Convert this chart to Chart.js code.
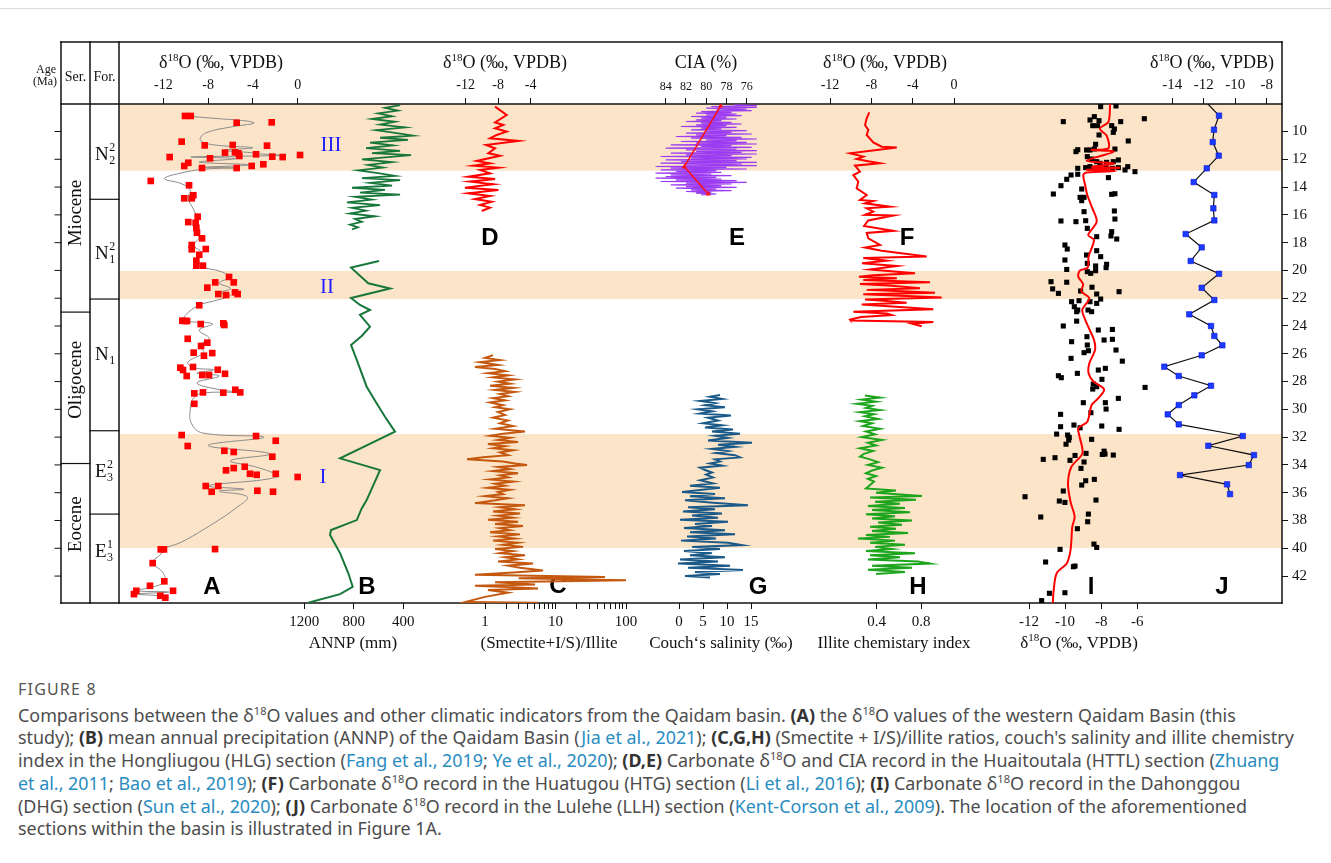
<!DOCTYPE html>
<html><head><meta charset="utf-8">
<script src="https://cdn.jsdelivr.net/npm/chart.js@4/dist/chart.umd.min.js"></script>
<style>
html,body{margin:0;padding:0;background:#fff}
body{width:1331px;height:863px;overflow:hidden;position:relative;font-family:'Noto Sans',sans-serif}
#topline{position:absolute;left:0;top:8px;width:1331px;height:1px;background:#dcdcdc}
#fig{position:absolute;left:0;top:0;width:1331px;height:660px}
#fig canvas{position:absolute;left:0;top:0}
#cap{position:absolute;left:18px;top:678px;color:#4d4d4d;font-size:17.9px;line-height:22.7px}
#cap .fig{font-size:16px;letter-spacing:1.2px;color:#555;margin-bottom:3px}
#cap .l{white-space:nowrap}
#cap b{color:#333}
#cap a{color:#2a8cbf;text-decoration:none}
#cap sup{font-size:11px;line-height:0;vertical-align:7px}
</style></head>
<body>
<div id="topline"></div>
<div id="fig"></div>
<div id="cap">
<div class="fig">FIGURE 8</div>
<div class="l">Comparisons between the δ<sup>18</sup>O values and other climatic indicators from the Qaidam basin. <b>(A)</b> the δ<sup>18</sup>O values of the western Qaidam Basin (this</div>
<div class="l">study); <b>(B)</b> mean annual precipitation (ANNP) of the Qaidam Basin (<a>Jia et al., 2021</a>); <b>(C,G,H)</b> (Smectite + I/S)/illite ratios, couch's salinity and illite chemistry</div>
<div class="l">index in the Hongliugou (HLG) section (<a>Fang et al., 2019</a>; <a>Ye et al., 2020</a>); <b>(D,E)</b> Carbonate δ<sup>18</sup>O and CIA record in the Huaitoutala (HTTL) section (<a>Zhuang</a></div>
<div class="l"><a>et al., 2011</a>; <a>Bao et al., 2019</a>); <b>(F)</b> Carbonate δ<sup>18</sup>O record in the Huatugou (HTG) section (<a>Li et al., 2016</a>); <b>(I)</b> Carbonate δ<sup>18</sup>O record in the Dahonggou</div>
<div class="l">(DHG) section (<a>Sun et al., 2020</a>); <b>(J)</b> Carbonate δ<sup>18</sup>O record in the Lulehe (LLH) section (<a>Kent-Corson et al., 2009</a>). The location of the aforementioned</div>
<div class="l">sections within the basin is illustrated in Figure 1A.</div>
</div>
<script>
// ---------------- DATA ----------------
const ageTicks = [10,12,14,16,18,20,22,24,26,28,30,32,34,36,38,40,42];
const bandStart = [8.02, 20.04, 31.78];
const bandEnd = [12.82, 22.06, 39.98];
const seriesNames = ['Miocene','Oligocene','Eocene'];
const seriesBounds = [23.0, 33.9];
const formationBounds = [14.88, 22.06, 31.54, 37.54];

// A: [d18O, age]
const aPoints = [[-10.06,8.88],[-9.55,8.88],[-5.45,9.37],[-2.32,9.34],[-10.36,10.73],[-8.30,11.0],[-5.80,10.97],[-2.74,11.02],[-6.49,11.52],[-5.6,11.5],[-5.3,11.57],[-3.72,11.64],[-11.43,11.84],[-7.83,11.93],[-5.21,11.76],[-2.27,11.81],[-1.34,11.84],[0.21,11.69],[-9.77,12.25],[-10.13,12.48],[-8.54,12.63],[-5.45,12.63],[-4.11,12.48],[-3.07,12.36],[-13.12,13.56],[-9.70,13.87],[-9.32,14.59],[-10.13,14.81],[-9.46,14.81],[-8.93,16.13],[-9.77,16.52],[-9.11,16.57],[-9.05,16.93],[-8.99,17.29],[-8.54,17.69],[-9.46,18.17],[-8.21,18.46],[-9.46,18.48],[-8.79,18.87],[-9.05,19.3],[-9.05,19.66],[-8.46,19.66],[-6.13,20.47],[-7.36,20.86],[-5.71,20.86],[-8.07,21.24],[-7.09,21.7],[-6.4,21.77],[-5.6,21.58],[-5.36,21.7],[-8.79,22.51],[-10.3,23.62],[-10.09,23.64],[-9.88,23.64],[-8.66,23.86],[-6.64,23.81],[-6.55,23.93],[-9.82,24.92],[-8.07,25.2],[-8.63,25.44],[-9.29,25.92],[-8.37,26.14],[-7.63,25.95],[-10.48,27.0],[-10.24,27.17],[-9.35,26.95],[-9.91,27.6],[-8.52,27.53],[-7.92,27.53],[-7.14,27.15],[-6.49,27.44],[-9.23,28.85],[-8.46,28.78],[-6.64,28.8],[-5.57,28.59],[-5.13,28.78],[-9.23,29.6],[-10.36,31.85],[-3.72,31.92],[-1.96,32.26],[-9.82,32.64],[-6.55,32.98],[-5.71,33.07],[-2.27,33.41],[-6.4,34.39],[-5.71,34.23],[-4.73,34.13],[-4.26,34.64],[-3.66,34.71],[-1.96,34.64],[0.0,34.87],[-8.21,35.52],[-7.09,35.52],[-7.68,35.93],[-3.6,35.86],[-2.2,35.93],[-12.23,40.08],[-11.94,40.08],[-7.38,40.06],[-12.95,41.07],[-11.91,42.38],[-13.19,42.7],[-11.13,43.06],[-14.41,43.06],[-14.62,43.3],[-12.27,43.42],[-11.82,43.56]];
const aSmooth = [[-10.0,8.88],[-7.5,9.05],[-4.5,9.25],[-3.9,9.4],[-5.8,9.65],[-8.2,10.1],[-8.7,10.6],[-7.6,10.95],[-4.0,11.17],[-6.6,11.35],[-4.5,11.5],[-3.2,11.62],[-1.4,11.72],[-9.5,11.83],[-5.5,11.95],[-8.8,12.2],[-4.3,12.4],[-8.5,12.58],[-5.6,12.62],[-8.2,12.7],[-10.5,13.0],[-11.9,13.4],[-10.4,13.75],[-9.6,14.2],[-9.8,14.8],[-9.3,15.6],[-9.0,16.3],[-9.2,17.0],[-8.8,17.6],[-9.3,18.2],[-8.6,18.7],[-9.0,19.3],[-8.7,19.7],[-6.8,20.1],[-6.1,20.5],[-7.0,20.9],[-6.0,21.3],[-7.0,21.6],[-6.0,21.8],[-7.5,22.2],[-8.8,22.5],[-10.0,23.2],[-10.1,23.6],[-7.6,23.85],[-8.8,24.3],[-7.9,24.9],[-8.8,25.4],[-8.4,25.9],[-9.8,26.6],[-9.3,27.0],[-7.5,27.15],[-9.0,27.4],[-7.0,27.6],[-9.0,28.1],[-6.9,28.6],[-5.3,28.75],[-8.6,28.85],[-9.4,29.3],[-9.6,30.0],[-9.5,31.0],[-8.5,31.7],[-3.0,32.0],[-8.0,32.6],[-2.5,33.2],[-6.0,33.7],[-3.5,34.2],[-1.8,34.85],[-8.0,35.5],[-4.8,35.75],[-7.0,35.9],[-4.5,36.3],[-5.5,37.1],[-8.3,38.6],[-10.5,39.6],[-12.0,40.05],[-12.2,40.4],[-12.9,41.0],[-12.0,41.8],[-11.9,42.4],[-13.0,42.8],[-14.5,43.05],[-11.5,43.15],[-14.4,43.3],[-12.0,43.45],[-11.8,43.6]];

// B: [ANNP mm, age]
const bUpper = [[426,8.1],[548,8.3],[443,8.5],[604,8.7],[491,8.9],[653,9.1],[467,9.3],[588,9.5],[386,9.7],[620,9.9],[467,10.1],[321,10.3],[588,10.45],[362,10.6],[669,10.8],[483,11.0],[701,11.2],[426,11.4],[653,11.55],[337,11.7],[523,11.85],[734,12.0],[491,12.2],[685,12.4],[564,12.6],[766,12.8],[604,13.0],[467,13.2],[734,13.35],[426,13.5],[669,13.7],[491,13.9],[814,14.05],[548,14.2],[750,14.4],[426,14.55],[790,14.7],[653,14.9],[855,15.1],[588,15.3],[814,15.5],[701,15.7],[831,15.9],[628,16.1],[790,16.3],[734,16.5],[831,16.7],[766,16.9],[814,17.05]];
const bLower = [[596,19.32],[822,19.8],[683,20.93],[507,21.3],[822,21.99],[750,22.49],[669,22.85],[750,23.2],[669,24.05],[734,24.7],[822,25.37],[774,26.5],[696,28.37],[623,29.45],[548,30.53],[467,31.6],[911,33.53],[588,34.37],[696,36.53],[736,37.13],[776,37.97],[984,38.69],[992,39.05],[911,40.35],[844,41.8],[809,42.77],[911,43.3],[1168,43.92]];

// C: [(Smectite+I/S)/Illite, age]
const cRatio = [[1.30,26.1],[1.00,26.3],[1.63,26.45],[0.85,26.6],[1.53,26.8],[0.72,26.95],[1.39,27.1],[1.92,27.25],[1.10,27.4],[2.12,27.55],[1.30,27.7],[2.66,27.85],[1.53,28.0],[2.26,28.15],[1.18,28.3],[2.50,28.45],[1.39,28.6],[2.66,28.75],[1.63,28.9],[2.12,29.05],[1.30,29.2],[1.92,29.35],[1.18,29.5],[1.80,29.7],[1.39,29.85],[2.26,30.0],[1.53,30.2],[1.92,30.4],[1.30,30.6],[2.12,30.8],[1.63,31.0],[2.50,31.2],[1.39,31.4],[3.69,31.6],[1.80,31.75],[1.18,31.9],[2.26,32.05],[1.53,32.2],[2.94,32.35],[1.10,32.5],[1.92,32.65],[1.30,32.8],[2.50,32.95],[1.63,33.1],[2.12,33.3],[0.94,33.45],[0.556,33.6],[1.80,33.75],[2.66,33.9],[3.94,34.0],[1.53,34.15],[2.26,34.3],[1.30,34.45],[2.94,34.6],[1.63,34.75],[2.12,34.9],[1.18,35.05],[2.50,35.2],[1.39,35.35],[1.92,35.5],[1.10,35.65],[2.26,35.8],[1.53,35.95],[1.80,36.1],[1.00,36.25],[2.12,36.4],[1.39,36.55],[0.72,36.75],[3.69,36.9],[1.63,37.05],[2.66,37.2],[1.30,37.35],[3.14,37.5],[1.53,37.65],[2.50,37.8],[1.10,37.95],[2.94,38.1],[1.39,38.25],[3.46,38.4],[1.63,38.55],[2.26,38.7],[1.18,38.85],[3.14,39.0],[1.53,39.15],[2.66,39.3],[1.30,39.45],[2.94,39.6],[1.80,39.75],[3.46,39.9],[1.39,40.05],[2.50,40.2],[1.63,40.35],[3.69,40.5],[1.92,40.65],[2.94,40.8],[1.53,40.95],[4.80,41.1],[2.12,41.25],[3.14,41.4],[6.65,41.6],[2.50,41.75],[0.72,41.9],[50.4,42.06],[3.0,42.15],[100,42.3],[1.39,42.45],[5.12,42.6],[0.72,42.7],[2.5,42.8],[5.65,42.89],[1.10,43.0],[2.12,43.2],[1.0,43.5],[0.52,43.87],[5.65,43.92]];

// D: [d18O, age]
const dD18O = [[-8.39,8.21],[-6.96,8.81],[-8.39,9.34],[-7.37,9.53],[-8.39,9.77],[-6.96,10.01],[-8.19,10.25],[-9.01,10.49],[-5.52,10.68],[-9.50,10.97],[-8.39,11.21],[-9.21,11.57],[-7.78,11.74],[-10.65,12.12],[-9.01,12.29],[-11.06,12.46],[-7.98,12.60],[-10.24,12.77],[-9.01,13.01],[-11.68,13.25],[-8.39,13.42],[-11.47,13.61],[-8.60,13.80],[-12.09,14.04],[-7.98,14.21],[-11.68,14.45],[-9.01,14.64],[-10.86,14.86],[-8.80,15.05],[-10.24,15.29],[-9.01,15.48],[-10.03,15.72]];

// E: [CIA %, age]
const eCIA = [[77.2,8.08],[75.0,8.14],[79.5,8.2],[75.0,8.26],[80.0,8.32],[76.0,8.38],[79.0,8.44],[75.5,8.5],[80.5,8.56],[77.5,8.62],[81.0,8.68],[77.0,8.74],[80.0,8.8],[76.5,8.86],[81.5,8.92],[78.0,8.98],[80.5,9.04],[77.0,9.1],[81.0,9.16],[78.5,9.22],[82.0,9.28],[77.5,9.34],[80.5,9.4],[76.5,9.46],[81.0,9.52],[78.0,9.58],[82.5,9.64],[77.0,9.7],[80.5,9.76],[78.5,9.82],[81.5,9.88],[76.0,9.94],[80.0,10.0],[77.5,10.06],[82.0,10.12],[75.5,10.18],[81.0,10.24],[78.0,10.3],[83.0,10.36],[76.5,10.42],[81.5,10.48],[75.0,10.54],[80.0,10.6],[77.0,10.66],[82.5,10.72],[76.0,10.78],[81.0,10.84],[75.0,10.9],[83.5,10.96],[77.5,11.02],[80.5,11.08],[75.5,11.14],[84.0,11.2],[77.0,11.26],[82.0,11.32],[75.0,11.38],[81.0,11.44],[76.5,11.5],[83.5,11.56],[75.0,11.62],[82.0,11.68],[77.5,11.74],[84.5,11.8],[75.5,11.86],[81.5,11.92],[76.0,11.98],[84.0,12.04],[77.0,12.1],[82.5,12.16],[75.0,12.22],[84.5,12.28],[76.5,12.34],[82.0,12.4],[75.0,12.46],[85.0,12.52],[78.0,12.58],[83.5,12.64],[76.0,12.7],[84.5,12.76],[79.0,12.82],[83.0,12.88],[78.5,12.94],[85.0,13.0],[79.5,13.06],[83.5,13.12],[77.5,13.18],[84.0,13.24],[79.0,13.3],[85.0,13.36],[78.5,13.42],[83.0,13.48],[77.0,13.54],[84.5,13.6],[76.0,13.66],[82.0,13.72],[77.5,13.78],[83.5,13.84],[78.5,13.9],[82.0,13.96],[77.0,14.02],[83.0,14.08],[79.0,14.14],[81.5,14.2],[77.5,14.26],[82.0,14.32],[79.5,14.38],[81.0,14.44],[79.0,14.5],[80.5,14.56]];
const eTrend = [[78.57,8.16],[82.16,12.53],[79.8,14.5]];

// F: [d18O, age]
const fD18O = [[-8.20,8.62],[-8.45,9.05],[-8.61,9.53],[-8.29,9.89],[-8.45,10.25],[-7.81,10.78],[-7.0,11.09],[-5.54,11.16],[-7.48,11.33],[-10.06,11.57],[-8.78,11.81],[-9.42,11.98],[-8.45,12.12],[-7.16,12.29],[-9.58,12.46],[-9.10,12.89],[-9.74,13.13],[-9.26,13.61],[-9.42,14.09],[-8.45,14.57],[-9.10,14.93],[-7.81,15.0],[-8.61,15.17],[-6.19,15.41],[-8.45,15.53],[-7.81,15.77],[-8.61,16.0],[-5.87,16.05],[-8.3,16.4],[-8.7,16.8],[-5.87,17.15],[-8.45,17.3],[-8.29,17.69],[-7.16,18.17],[-8.6,18.35],[-7.0,18.58],[-2.64,19.0],[-8.78,19.1],[-6.5,19.3],[-8.9,19.49],[-5.54,19.68],[-8.13,19.93],[-3.77,20.21],[-7.81,20.35],[-9.2,20.45],[-5.54,20.57],[-8.78,20.69],[-2.32,20.86],[-9.10,20.98],[-6.0,21.1],[-3.29,21.29],[-8.45,21.4],[-5.0,21.5],[-1.84,21.6],[-8.78,21.72],[-4.0,21.85],[-1.19,21.94],[-8.61,22.1],[-6.5,22.2],[-4.58,22.32],[-8.93,22.45],[-6.0,22.6],[-2.0,22.8],[-9.74,22.97],[-6.5,23.1],[-6.03,23.21],[-9.0,23.35],[-10.06,23.54],[-10.0,23.6],[-2.0,23.71],[-4.09,23.83],[-3.12,24.02]];

// G: [Couch's salinity, age]
const gSal = [[8.54,28.97],[6.46,29.1],[8.96,29.25],[4.38,29.4],[7.5,29.55],[5.42,29.7],[9.58,29.85],[3.96,30.0],[6.88,30.15],[4.38,30.3],[10.83,30.45],[6.04,30.6],[8.13,30.8],[5.0,31.0],[8.96,31.15],[5.42,31.3],[11.25,31.45],[6.88,31.6],[12.71,31.75],[7.5,31.9],[10.21,32.05],[6.04,32.25],[15.21,32.4],[8.13,32.55],[11.67,32.7],[6.88,32.85],[10.21,33.0],[7.71,33.15],[11.67,33.3],[12.71,33.46],[7.5,33.6],[8.54,33.75],[6.46,33.9],[8.96,34.05],[4.38,34.2],[5.42,34.37],[6.88,34.55],[5.63,34.7],[7.08,34.9],[4.38,35.1],[7.08,35.33],[2.29,35.5],[8.54,35.65],[4.38,35.8],[0.63,35.95],[7.5,36.1],[2.29,36.25],[9.58,36.4],[1.25,36.55],[6.46,36.7],[14.38,36.9],[1.88,37.05],[7.5,37.2],[0.83,37.35],[8.96,37.5],[2.71,37.65],[8.13,37.8],[0.21,37.95],[10.21,38.1],[3.33,38.25],[6.88,38.4],[1.04,38.55],[9.58,38.7],[2.29,38.85],[11.67,39.0],[1.67,39.15],[7.71,39.3],[0.42,39.45],[10.21,39.6],[13.13,39.77],[2.71,39.9],[8.54,40.05],[1.04,40.2],[6.88,40.35],[2.29,40.5],[9.58,40.65],[0.21,40.8],[8.13,40.95],[-0.21,41.1],[10.63,41.25],[1.88,41.4],[13.33,41.57],[3.33,41.7],[8.54,41.85],[1.25,42.0],[6.46,42.1]];

// H: [Illite chemistry index, age]
const hIci = [[0.294,29.0],[0.430,29.15],[0.267,29.3],[0.394,29.45],[0.222,29.6],[0.358,29.75],[0.303,29.9],[0.430,30.05],[0.249,30.2],[0.376,30.35],[0.294,30.5],[0.412,30.7],[0.249,30.85],[0.358,31.0],[0.276,31.2],[0.430,31.4],[0.303,31.6],[0.385,31.8],[0.267,32.0],[0.448,32.2],[0.321,32.4],[0.394,32.6],[0.249,32.8],[0.367,33.0],[0.285,33.2],[0.249,33.4],[0.340,33.6],[0.412,33.8],[0.321,34.0],[0.448,34.2],[0.358,34.4],[0.303,34.6],[0.394,34.8],[0.321,35.0],[0.376,35.2],[0.340,35.45],[0.303,35.7],[0.574,35.85],[0.394,36.0],[0.809,36.24],[0.340,36.35],[0.755,36.5],[0.385,36.65],[0.610,36.8],[0.321,36.95],[0.655,37.1],[0.358,37.25],[0.701,37.4],[0.303,37.55],[0.565,37.7],[0.358,37.85],[0.719,38.0],[0.412,38.15],[0.628,38.3],[0.340,38.45],[0.574,38.6],[0.358,38.75],[0.683,38.9],[0.303,39.05],[0.520,39.18],[0.231,39.29],[0.565,39.45],[0.340,39.6],[0.655,39.75],[0.385,39.9],[0.538,40.05],[0.303,40.2],[0.746,40.35],[0.340,40.5],[0.610,40.65],[0.321,40.8],[0.773,40.95],[0.881,41.1],[0.358,41.25],[0.719,41.4],[0.321,41.55],[0.655,41.7],[0.394,41.85]];

// I: [d18O, age]
const iPoints = [[-8.03,8.21],[-7.18,8.16],[-10.10,9.29],[-8.62,9.17],[-8.38,8.93],[-8.12,9.22],[-6.92,9.29],[-5.61,9.08],[-8.47,9.58],[-8.20,9.58],[-7.42,9.58],[-7.27,9.82],[-7.33,10.06],[-8.12,10.25],[-6.50,10.68],[-8.31,10.92],[-9.30,11.31],[-9.40,11.45],[-8.81,11.33],[-8.62,11.33],[-8.38,11.26],[-7.24,11.26],[-8.77,11.81],[-8.53,11.98],[-8.25,12.17],[-8.07,12.29],[-7.70,12.22],[-7.33,12.17],[-7.05,12.05],[-9.30,12.65],[-8.86,12.60],[-8.62,12.53],[-8.34,12.65],[-8.07,12.70],[-7.73,12.60],[-7.38,12.65],[-7.05,12.60],[-6.68,12.77],[-6.53,12.53],[-6.13,12.89],[-9.67,13.13],[-9.30,13.08],[-7.60,13.32],[-9.91,13.44],[-10.23,13.90],[-9.08,14.14],[-10.65,14.50],[-7.42,14.52],[-7.24,14.48],[-9.17,14.74],[-9.08,14.98],[-8.95,14.74],[-7.27,15.72],[-8.95,15.77],[-10.23,16.44],[-9.40,16.49],[-8.86,16.42],[-7.24,16.30],[-8.77,16.97],[-7.42,17.21],[-8.25,17.57],[-7.46,17.52],[-7.14,17.74],[-10.01,18.17],[-9.88,18.46],[-8.25,18.58],[-8.81,18.89],[-8.03,19.01],[-10.01,19.25],[-7.70,19.56],[-7.73,19.80],[-8.77,19.49],[-8.31,19.68],[-8.31,20.02],[-9.91,19.93],[-8.77,20.09],[-8.58,20.21],[-10.78,20.81],[-10.69,21.33],[-10.37,21.65],[-9.91,20.85],[-8.51,21.21],[-9.14,21.48],[-8.25,21.70],[-8.03,22.06],[-7.01,21.53],[-9.64,22.25],[-9.23,22.18],[-9.49,22.61],[-9.30,22.85],[-9.36,22.97],[-8.62,22.25],[-8.73,22.85],[-8.53,22.97],[-8.25,22.37],[-9.36,23.65],[-10.10,24.00],[-8.16,24.29],[-7.38,24.25],[-8.79,24.77],[-7.84,25.01],[-7.38,24.96],[-9.64,25.13],[-8.77,25.37],[-8.71,25.78],[-8.95,25.92],[-7.18,25.73],[-9.67,26.33],[-6.83,26.53],[-9.32,27.41],[-10.37,27.58],[-10.21,27.72],[-8.16,27.17],[-7.77,27.05],[-7.96,27.84],[-8.44,28.18],[-8.25,28.37],[-8.47,28.54],[-5.57,28.42],[-7.05,29.21],[-8.99,29.52],[-7.77,29.52],[-7.73,29.98],[-10.25,30.36],[-8.57,30.24],[-10.25,31.25],[-9.51,31.13],[-9.17,31.33],[-7.97,31.20],[-7.01,31.44],[-10.47,31.78],[-9.86,31.85],[-9.77,32.02],[-9.80,32.21],[-9.95,32.51],[-8.53,32.16],[-7.84,33.01],[-7.79,33.22],[-7.94,33.25],[-7.33,33.29],[-8.84,33.17],[-11.21,33.60],[-10.56,33.48],[-9.73,33.67],[-8.95,33.79],[-9.45,33.32],[-9.12,34.25],[-8.86,35.14],[-9.08,35.45],[-8.38,35.04],[-10.10,35.88],[-12.22,36.29],[-10.32,36.60],[-10.01,36.70],[-8.29,36.53],[-8.71,37.54],[-8.75,38.09],[-11.35,37.75],[-9.32,38.59],[-8.40,39.70],[-8.25,39.94],[-10.28,40.08],[-11.08,40.99],[-9.54,41.33],[-9.45,41.28],[-10.01,43.20],[-10.87,43.24],[-11.30,43.77]];
const iSmooth = [[-7.51,8.0],[-7.51,8.16],[-7.6,9.3],[-8.07,9.8],[-7.7,10.3],[-7.6,11.2],[-8.53,11.33],[-7.3,11.45],[-8.8,12.1],[-7.3,12.3],[-8.5,12.55],[-7.0,12.62],[-8.8,12.75],[-7.2,12.85],[-8.8,12.95],[-8.99,13.13],[-8.9,13.8],[-8.77,14.57],[-8.5,15.5],[-8.25,16.49],[-8.72,17.45],[-8.4,17.8],[-8.7,19.0],[-8.75,19.8],[-9.18,20.0],[-9.27,20.45],[-9.0,21.0],[-9.1,21.5],[-8.66,22.0],[-9.05,22.85],[-8.9,23.5],[-8.72,24.05],[-8.4,25.0],[-8.34,25.7],[-8.66,26.7],[-8.7,27.4],[-8.43,28.0],[-7.84,28.56],[-8.16,29.2],[-8.53,29.69],[-8.77,30.89],[-9.27,31.37],[-9.22,31.85],[-9.04,33.17],[-9.65,34.13],[-9.84,35.33],[-9.7,36.65],[-9.47,37.73],[-9.6,38.45],[-9.7,40.13],[-9.91,41.09],[-10.47,41.81],[-10.65,43.25],[-10.68,44.0]];

// J: [d18O, age]
const jLineTop = [[-11.75,8.0]];
const jPoints = [[-11.03,8.86],[-11.35,9.87],[-11.43,10.76],[-11.05,11.74],[-11.81,12.65],[-12.64,13.64],[-11.33,14.57],[-11.39,15.53],[-11.33,16.4],[-13.15,17.38],[-12.13,18.34],[-12.83,19.32],[-11.03,20.24],[-12.13,21.25],[-11.33,22.13],[-12.92,23.16],[-11.54,24.0],[-11.33,24.72],[-10.82,25.39],[-12.13,26.11],[-14.51,26.93],[-13.59,27.6],[-11.54,28.3],[-12.6,28.99],[-13.59,29.69],[-14.29,30.36],[-13.59,31.08],[-9.52,31.92],[-11.71,32.62],[-8.81,33.29],[-9.14,34.01],[-13.51,34.73],[-10.52,35.4],[-10.33,36.1]];

// tick values
const aTicks = [-12,-8,-4,0];
const bTicks = [1200,800,400];
const cTicks = [1,2,3,4,5,6,7,8,9,10,20,30,40,50,60,70,80,90,100];
const dTicks = [-12,-8,-4];
const eTicks = [84,82,80,78,76];
const fTicks = [-12,-8,-4,0];
const gTicks = [0,5,10,15];
const hTicks = [0.4,0.8];
const iTicks = [-12,-10,-8,-6];
const jTicks = [-14,-12,-10,-8];

// ---------------- LAYOUT ----------------
const W = 1331, H = 660, L = 119, R = 1282, T = 104, B = 603, AX = 40;
const YMIN = 8.02, YMAX = 43.94;
const SERIF = '"Liberation Serif", "Times New Roman", serif';
const fig = document.getElementById('fig');

function newCanvas(){
  const c = document.createElement('canvas');
  c.width = W; c.height = H; c.style.width = W + 'px'; c.style.height = H + 'px';
  fig.appendChild(c); return c;
}
// axis range such that value v1 sits at pixel p1 and v2 at p2
function linRange(v1, p1, v2, p2){
  const k = (p2 - p1) / (v2 - v1);
  const a = v1 + (L - p1) / k, b = v1 + (R - p1) / k;
  return k > 0 ? {type:'linear', min:a, max:b, reverse:false} : {type:'linear', min:b, max:a, reverse:true};
}
function logRange(v1, p1, v2, p2){
  const r = linRange(Math.log10(v1), p1, Math.log10(v2), p2);
  return {type:'logarithmic', min:Math.pow(10, r.min), max:Math.pow(10, r.max), reverse:r.reverse};
}
const pts = arr => arr.map(p => ({x:p[0], y:p[1]}));
const lineDs = (arr, color, w, extra) => Object.assign({data:pts(arr), showLine:true, borderColor:color, backgroundColor:color, borderWidth:w, pointRadius:0, fill:false, tension:0}, extra || {});
const dotDs = (arr, color, r, extra) => Object.assign({data:pts(arr), showLine:false, pointStyle:'rect', pointRadius:r, backgroundColor:color, borderColor:color, borderWidth:0}, extra || {});

function makePanel(pos, range, ticks, labelFn, fontSize, datasets){
  const cv = newCanvas();
  return new Chart(cv, {
    type:'scatter',
    data:{datasets},
    options:{
      responsive:false, animation:false, events:[], devicePixelRatio:1,
      layout:{padding:{left:L, right:W - R, top: pos === 'top' ? T - AX : T, bottom: pos === 'top' ? H - B : H - B - AX}},
      plugins:{legend:{display:false}, tooltip:{enabled:false}},
      scales:{
        x:Object.assign({}, range, {
          position:pos,
          afterFit:s => { s.height = AX; },
          afterBuildTicks:s => { s.ticks = ticks.map(v => ({value:v})); },
          grid:{display:true, drawOnChartArea:false, drawTicks:true, tickLength:6, color:'#111', lineWidth:1},
          border:{display:false},
          ticks:{autoSkip:false, maxRotation:0, minRotation:0, padding:4, color:'#111',
                 font:{family:SERIF, size:fontSize}, callback:(v, i) => labelFn(ticks[i])}
        }),
        y:{display:false, min:YMIN, max:YMAX, reverse:true}
      }
    }
  });
}

function rich(ctx, segs, x, y, align){
  let w = 0;
  for (const s of segs){ ctx.font = s.f + 'px ' + SERIF; w += ctx.measureText(s.t).width; }
  let cx = align === 'center' ? x - w / 2 : x;
  ctx.textAlign = 'left'; ctx.textBaseline = 'alphabetic';
  for (const s of segs){ ctx.font = s.f + 'px ' + SERIF; ctx.fillText(s.t, cx, y + (s.dy || 0)); cx += ctx.measureText(s.t).width; }
}
const d18 = f => [{t:'δ', f}, {t:'18', f:Math.round(f * 0.62), dy:-Math.round(f * 0.4)}, {t:'O (‰, VPDB)', f}];

const framePlugin = {
  id:'frame',
  beforeDatasetsDraw(chart){
    const ctx = chart.ctx, y = chart.scales.y, a = chart.chartArea;
    ctx.save();
    ctx.fillStyle = '#FCE4C8';
    for (let i = 0; i < bandStart.length; i++){
      const y0 = Math.max(a.top, y.getPixelForValue(bandStart[i]));
      const y1 = Math.min(a.bottom, y.getPixelForValue(bandEnd[i]));
      ctx.fillRect(a.left, y0, a.right - a.left, y1 - y0);
    }
    ctx.restore();
  },
  afterDraw(chart){
    const ctx = chart.ctx, ys = chart.scales.y, a = chart.chartArea;
    const py = v => ys.getPixelForValue(v);
    const X0 = 61, X1 = 90, X2 = 119, TOP = 42;
    ctx.save();
    ctx.strokeStyle = '#111'; ctx.lineWidth = 1.5; ctx.lineCap = 'square';
    const seg = (x0, y0, x1, y1) => { ctx.beginPath(); ctx.moveTo(x0, y0); ctx.lineTo(x1, y1); ctx.stroke(); };
    seg(X0, TOP, R, TOP); seg(X0, a.top, R, a.top); seg(X0, a.bottom, R, a.bottom);
    seg(X0, TOP, X0, a.bottom); seg(X1, TOP, X1, a.bottom); seg(X2, TOP, X2, a.bottom); seg(R, TOP, R, a.bottom);
    ctx.lineWidth = 1.2;
    for (const v of seriesBounds) seg(X0, py(v), X1, py(v));
    for (const v of formationBounds) seg(X1, py(v), X2, py(v));
    ctx.lineWidth = 1;
    for (const v of ageTicks) seg(X0 - 6, py(v), X0, py(v));
    // headers
    ctx.fillStyle = '#111'; ctx.textAlign = 'center'; ctx.textBaseline = 'middle';
    ctx.font = '12px ' + SERIF; ctx.fillText('Age', 46, 70); ctx.fillText('(Ma)', 45, 82);
    ctx.font = '14px ' + SERIF; ctx.fillText('Ser.', 75.5, 77); ctx.fillText('For.', 104.5, 77);
    // series names (rotated)
    const serY = [py((YMIN + seriesBounds[0]) / 2) + 5, py((seriesBounds[0] + seriesBounds[1]) / 2) - 8, py((seriesBounds[1] + YMAX) / 2) - 9];
    ctx.font = '19px ' + SERIF;
    seriesNames.forEach((n, i) => { ctx.save(); ctx.translate(76, serY[i]); ctx.rotate(-Math.PI / 2); ctx.fillText(n, 0, 0); ctx.restore(); });
    // formation labels
    const form = [['N','2','2',153],['N','1','2',252],['N','1','',353],['E','3','2',470],['E','3','1',550]];
    for (const f of form){
      ctx.textAlign = 'left'; ctx.textBaseline = 'alphabetic';
      ctx.font = '19px ' + SERIF; ctx.fillText(f[0], 95, f[3] + 7);
      const w = ctx.measureText(f[0]).width;
      ctx.font = '12px ' + SERIF;
      if (f[2]) ctx.fillText(f[2], 95 + w + 0.5, f[3] - 2);
      ctx.fillText(f[1], 95 + w + 0.5, f[3] + 11);
    }
    // roman numerals
    ctx.fillStyle = '#1f1fff'; ctx.font = '21px ' + SERIF; ctx.textAlign = 'center'; ctx.textBaseline = 'middle';
    ctx.fillText('III', 331, 145); ctx.fillText('II', 327, 287); ctx.fillText('I', 323, 477);
    // panel letters
    ctx.fillStyle = '#000'; ctx.font = 'bold 24px "Liberation Sans", Arial, sans-serif';
    [['A',212,587],['B',367,587],['C',558,586],['D',490,238],['E',737,238],['F',907,238],['G',758,587],['H',918,587],['I',1091,587],['J',1222,587]]
      .forEach(l => ctx.fillText(l[0], l[1], l[2]));
    // axis titles
    ctx.fillStyle = '#111';
    rich(ctx, d18(18), 221, 68, 'center');
    rich(ctx, d18(18), 505, 68, 'center');
    rich(ctx, [{t:'CIA (%)', f:18}], 706, 68, 'center');
    rich(ctx, d18(18), 885, 68, 'center');
    rich(ctx, d18(18), 1212, 68, 'center');
    rich(ctx, [{t:'ANNP (mm)', f:17}], 353, 648, 'center');
    rich(ctx, [{t:'(Smectite+I/S)/Illite', f:17}], 549, 648, 'center');
    rich(ctx, [{t:'Couch‘s salinity (‰)', f:17}], 721, 648, 'center');
    rich(ctx, [{t:'Illite chemistary index', f:17}], 894, 648, 'center');
    rich(ctx, d18(17), 1079, 648, 'center');
    ctx.restore();
  }
};

// base chart: age axis, bands, frame
new Chart(newCanvas(), {
  type:'scatter',
  data:{datasets:[]},
  options:{
    responsive:false, animation:false, events:[], devicePixelRatio:1,
    layout:{padding:{left:L, right:0, top:T, bottom:H - B}},
    plugins:{legend:{display:false}, tooltip:{enabled:false}},
    scales:{
      x:{display:false, min:0, max:1},
      y:{position:'right', reverse:true, min:YMIN, max:YMAX,
         afterFit:s => { s.width = W - R; },
         afterBuildTicks:s => { s.ticks = ageTicks.map(v => ({value:v})); },
         grid:{drawOnChartArea:false, drawTicks:true, tickLength:6, color:'#111'},
         border:{display:false},
         ticks:{padding:4, color:'#111', font:{family:SERIF, size:15}, callback:v => String(v)}}
    }
  },
  plugins:[framePlugin]
});

const plain = v => String(v);
// A
makePanel('top', linRange(-12, 163.3, 0, 297.7), aTicks, plain, 14, [
  dotDs(aPoints, '#ff0000', 4.7),
  lineDs(aSmooth, '#8a8a8a', 1, {tension:0.4})
]);
// B
makePanel('bottom', linRange(1200, 304.3, 400, 403.3), bTicks, plain, 15, [
  lineDs(bUpper, '#17773a', 1.8),
  lineDs(bLower, '#17773a', 2)
]);
// C
makePanel('bottom', logRange(1, 485, 100, 626), cTicks, v => ([1,10,100].includes(v) ? String(v) : ''), 15, [
  lineDs(cRatio, '#c4580f', 2)
]);
// D
makePanel('top', linRange(-12, 465.7, -4, 530.7), dTicks, plain, 14, [
  lineDs(dD18O, '#ff0000', 2)
]);
// E
makePanel('top', linRange(84, 665.7, 76, 746.7), eTicks, plain, 12, [
  lineDs(eTrend, '#ff1010', 1.5, {pointRadius:3, pointStyle:'triangle', pointBackgroundColor:'#ff1010', pointBorderWidth:0}),
  lineDs(eCIA, '#9b3cf2', 1.2)
]);
// F
makePanel('top', linRange(-12, 830, 0, 954), fTicks, plain, 14, [
  lineDs(fD18O, '#ff0000', 2)
]);
// G
makePanel('bottom', linRange(0, 679, 15, 751), gTicks, plain, 15, [
  lineDs(gSal, '#1b5a88', 2)
]);
// H
makePanel('bottom', linRange(0.4, 876.7, 0.8, 921), hTicks, plain, 15, [
  lineDs(hIci, '#1ea51e', 2)
]);
// I
makePanel('bottom', linRange(-12, 1029, -6, 1137.3), iTicks, plain, 15, [
  lineDs(iSmooth, '#ff0000', 2, {tension:0.3}),
  dotDs(iPoints, '#000000', 3.6)
]);
// J
makePanel('top', linRange(-14, 1172.3, -8, 1266.7), jTicks, plain, 15, [
  dotDs(jPoints, '#1a3cff', 3.9, {borderColor:'#0000cc', borderWidth:0.5}),
  lineDs(jLineTop.concat(jPoints), '#111111', 1.2)
]);
</script>
</body></html>
